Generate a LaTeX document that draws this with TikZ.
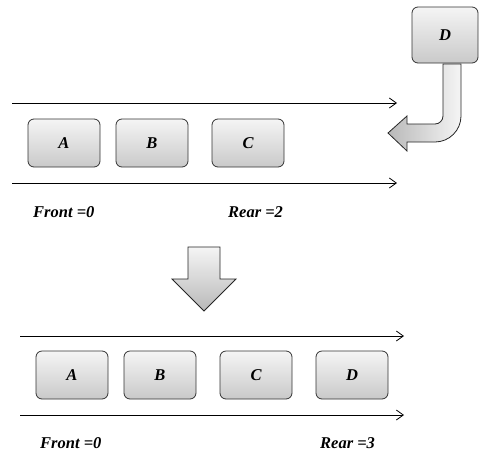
\documentclass[tikz,border=0pt]{standalone}
\usepackage{fontspec}
\setmainfont{Liberation Serif}
\usetikzlibrary{arrows.meta}
\begin{document}
\begin{tikzpicture}[x=1pt,y=-1pt,
  item/.style={draw=black!80, line width=0.8pt, rounded corners=6pt,
    top color=gray!8, bottom color=gray!42, minimum width=72pt, minimum height=48pt,
    inner sep=0pt, font=\fontsize{16.5}{18}\selectfont\bfseries\itshape},
  track/.style={line width=0.8pt, -{Straight Barb[length=7pt,width=10pt,line width=0.8pt]}},
  lbl/.style={anchor=west, inner sep=0pt, font=\fontsize{16.5}{18}\selectfont\bfseries\itshape},
  blockarrow/.style={draw=black!85, line width=0.8pt, line join=miter}
]
\useasboundingbox (0,0) rectangle (479,453);

% ---- upper queue ----
\node[item, minimum width=66pt, minimum height=56pt] (d0) at (445,35) {D};

\coordinate (t1s) at (12,103);  \coordinate (t1e) at (397,103);
\coordinate (b1s) at (12,183);  \coordinate (b1e) at (397,183);
\draw[track] (t1s) -- (t1e);
\draw[track] (b1s) -- (b1e);

\node[item] (a1) at (64,143) {A};
\node[item] (bb1) at (152,143) {B};
\node[item] (c1) at (248,143) {C};

\node[lbl] (f1) at (33,212) {Front =0};
\node[lbl] (r1) at (228,212) {Rear =2};

% bent arrow carrying D into the rear
\path[blockarrow, left color=gray!55, right color=gray!8]
  (443,64) -- (443,116) .. controls (443,120.4) and (439.4,124) .. (435,124)
  -- (407,124) -- (407,116) -- (388,133) -- (407,151) -- (407,142) -- (435,142)
  .. controls (449.3,142) and (461,130.3) .. (461,116) -- (461,64) -- cycle;

% ---- transition arrow ----
\path[blockarrow, top color=gray!8, bottom color=gray!55]
  (188,247) -- (220,247) -- (220,279) -- (236,279) -- (204,311)
  -- (172,279) -- (188,279) -- cycle;

% ---- lower queue ----
\coordinate (t2s) at (20,336);  \coordinate (t2e) at (404,336);
\coordinate (b2s) at (20,415);  \coordinate (b2e) at (404,415);
\draw[track] (t2s) -- (t2e);
\draw[track] (b2s) -- (b2e);

\node[item] (a2) at (72,375) {A};
\node[item] (bb2) at (160,375) {B};
\node[item] (c2) at (256,375) {C};
\node[item] (d2) at (352,375) {D};

\node[lbl] (f2) at (40,443) {Front =0};
\node[lbl] (r2) at (320,443) {Rear =3};
\end{tikzpicture}
\end{document}
